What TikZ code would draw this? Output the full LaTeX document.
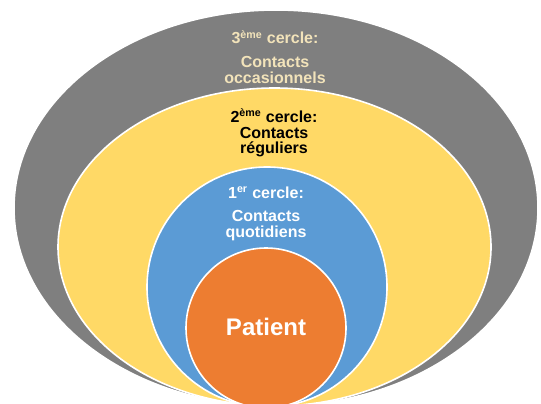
\documentclass[tikz,border=0pt]{standalone}
\usepackage{fontspec}
\setmainfont{Liberation Sans}
\definecolor{ringgray}{HTML}{7F7F7F}
\definecolor{ringyellow}{HTML}{FFD966}
\definecolor{ringblue}{HTML}{5B9BD5}
\definecolor{ringorange}{HTML}{ED7D31}
\definecolor{creamtext}{HTML}{F2E3BA}
\begin{document}
\begin{tikzpicture}[x=0.75pt, y=-0.75pt,
  ring/.style={draw=white, line width=1.2pt},
  lbl/.style={anchor=base, inner sep=0pt, font=\bfseries\fontsize{12}{12}\selectfont}]
  \useasboundingbox (0,0) rectangle (541,403);
  \clip (0,0) rectangle (541,403);
  \draw[ring, fill=ringgray] (276,208) ellipse [x radius=262, y radius=198];
  \draw[ring, fill=ringyellow] (274.5,247) ellipse [x radius=216.5, y radius=159];
  \draw[ring, fill=ringblue] (267,287) ellipse [x radius=120, y radius=120];
  \draw[ring, fill=ringorange] (266,328) ellipse [x radius=80, y radius=80];
  \node[lbl, text=creamtext] (third) at (275,44) {3\textsuperscript{ème} cercle:};
  \node[lbl, text=creamtext] (thirdA) at (275,67) {Contacts};
  \node[lbl, text=creamtext] (thirdB) at (275,83) {occasionnels};
  \node[lbl, text=black] (second) at (274,122) {2\textsuperscript{ème} cercle:};
  \node[lbl, text=black] (secondA) at (274,138) {Contacts};
  \node[lbl, text=black] (secondB) at (274,153) {réguliers};
  \node[lbl, text=white] (first) at (266,198) {1\textsuperscript{er} cercle:};
  \node[lbl, text=white] (firstA) at (266,221) {Contacts};
  \node[lbl, text=white] (firstB) at (266,237) {quotidiens};
  \node[lbl, text=white, font=\bfseries\fontsize{18}{18}\selectfont] (patient) at (266,335) {Patient};
\end{tikzpicture}
\end{document}
